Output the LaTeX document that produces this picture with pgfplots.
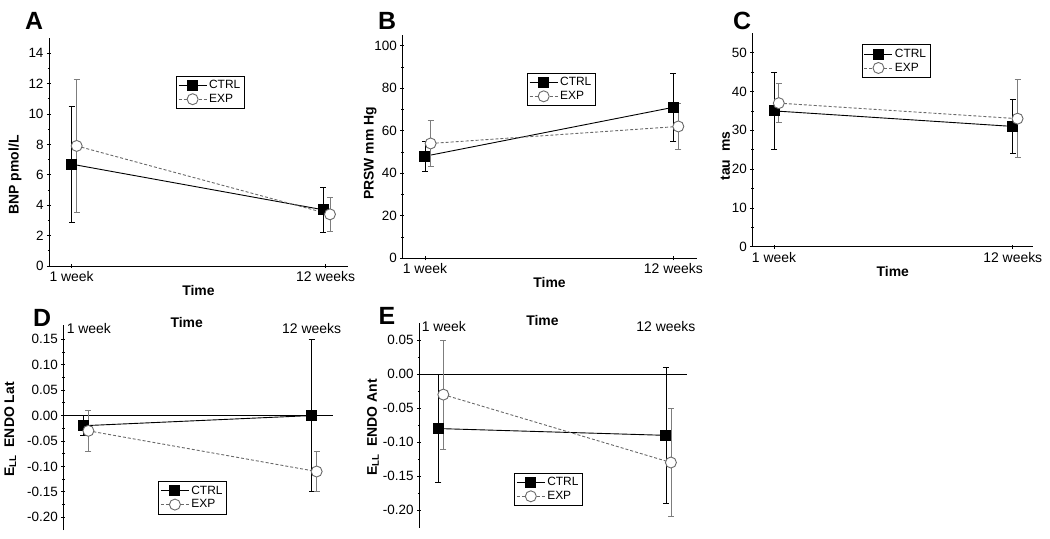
\documentclass[border=0pt]{standalone}
\usepackage{fontspec}
\setmainfont{Liberation Sans}
\usepackage{pgfplots}
\pgfplotsset{compat=1.18}
\definecolor{expgray}{RGB}{105,105,105}
\definecolor{expbar}{RGB}{125,125,125}

\pgfplotsset{
  panel/.style={
    scale only axis, clip=false,
    tick align=outside,
    major tick length=4bp, minor tick length=2.5bp,
    every tick/.append style={black, line width=0.8bp},
    yticklabel style={font=\fontsize{13.5}{14}\selectfont},
    xticklabel style={font=\fontsize{14}{15}\selectfont},
    /pgf/number format/assume math mode=true,
    minor y tick num=1,
    xtick={0,1}, xticklabels={1 week,12 weeks},
    label style={font=\bfseries\fontsize{14}{15}\selectfont},
    legend style={draw=black, line width=0.8bp, font=\fontsize{12}{13}\selectfont,
      inner xsep=2bp, inner ysep=2.5bp, row sep=0bp, cells={anchor=west}, anchor=north west},
    legend image code/.code={\draw[mark repeat=2,mark phase=2]
      plot coordinates {(0bp,0bp)(14bp,0bp)(28bp,0bp)};},
  },
  top panel/.style={panel, axis lines=left,
    axis line style={-, line width=0.9bp},
    every outer x axis line/.append style={-}, every outer y axis line/.append style={-},
    xlabel={Time},
    xlabel style={at={(axis description cs:0.5,0)}, anchor=north, yshift=-16bp}},
  low panel/.style={panel, axis y line=left, axis x line=top,
    axis line style={-, line width=0.9bp},
    every outer x axis line/.append style={-}, every outer y axis line/.append style={-},
    x axis line style={draw=none}, xtick style={draw=none},
    xticklabels={\hspace*{11bp}1 week,12 weeks},
    xticklabel style={yshift=-14bp}, xlabel={Time},
    /pgf/number format/fixed, /pgf/number format/fixed zerofill,
    /pgf/number format/precision=2},
  ctrl/.style={black, line width=0.9bp, mark=square*, mark size=5bp,
    mark options={solid, fill=black},
    error bars/y dir=both, error bars/y explicit,
    error bars/error bar style={black, line width=0.8bp, solid},
    error bars/error mark options={rotate=90, mark size=3bp, black, line width=0.8bp, solid}},
  exp/.style={expgray, line width=0.9bp, dash pattern=on 3bp off 2bp, mark=*, mark size=5.5bp,
    mark options={solid, fill=white, draw=expgray},
    error bars/y dir=both, error bars/y explicit,
    error bars/error bar style={expbar, line width=0.8bp, solid},
    error bars/error mark options={rotate=90, mark size=3bp, expbar, line width=0.8bp, solid}},
}

\begin{document}
\begin{tikzpicture}
% A
\begin{axis}[top panel, at={(49bp,-38bp)}, anchor=north west, width=299bp, height=228bp,
  xmin=-0.089, xmax=1.088, ymin=0, ymax=15, ytick={0,2,...,14},
  ylabel={BNP pmol/L}, ylabel style={at={(axis description cs:0,0.40)}, anchor=center, yshift=34bp},
  legend style={at={(axis description cs:0.424,0.835)}}]
\addplot[ctrl] coordinates {(0,6.7) +- (0,3.8) (0.99,3.7) +- (0,1.5)};
\addlegendentry{CTRL}
\addplot[exp] coordinates {(0.02,7.9) +- (0,4.4) (1.017,3.4) +- (0,1.1)};
\addlegendentry{EXP}
\end{axis}
% B
\begin{axis}[top panel, at={(402.3bp,-35bp)}, anchor=north west, width=294.4bp, height=223.3bp,
  xmin=-0.091, xmax=1.094, ymin=0, ymax=105, ytick={0,20,...,100},
  ylabel={PRSW mm Hg}, ylabel style={at={(axis description cs:0,0.47)}, anchor=center, yshift=32bp},
  legend style={at={(axis description cs:0.423,0.831)}}]
\addplot[ctrl] coordinates {(0,48) +- (0,7) (1,71) +- (0,16)};
\addlegendentry{CTRL}
\addplot[exp] coordinates {(0.023,54) +- (0,11) (1.02,62) +- (0,11)};
\addlegendentry{EXP}
\end{axis}
% C
\begin{axis}[top panel, at={(752.3bp,-33.3bp)}, anchor=north west, width=281bp, height=213.4bp,
  xmin=-0.091, xmax=1.086, ymin=0, ymax=55, ytick={0,10,...,50},
  ylabel={tau\ \ ms}, ylabel style={at={(axis description cs:0,0.425)}, anchor=center, yshift=27bp},
  legend style={at={(axis description cs:0.389,0.948)}}]
\addplot[ctrl] coordinates {(0,35) +- (0,10) (1,31) +- (0,7)};
\addlegendentry{CTRL}
\addplot[exp] coordinates {(0.02,37) +- (0,5) (1.02,33) +- (0,10)};
\addlegendentry{EXP}
\end{axis}
% D
\begin{axis}[low panel, at={(63.3bp,-325bp)}, anchor=north west, width=270bp, height=205bp,
  xmin=-0.088, xmax=1.095, ymin=-0.225, ymax=0.178,
  ytick={-0.2,-0.15,-0.1,-0.05,0,0.05,0.1,0.15},
  xlabel style={at={(axis description cs:0.457,1)}, anchor=center, yshift=2bp,
    font=\bfseries\fontsize{14}{15}\selectfont},
  ylabel={E\textsubscript{LL}\ \ ENDO Lat}, ylabel style={at={(axis description cs:0,0.49)}, anchor=center, yshift=53bp},
  legend style={at={(axis description cs:0.351,0.239)}}]
\draw[line width=0.9bp] (axis cs:-0.088,0) -- (axis cs:1.095,0);
\addplot[ctrl] coordinates {(0,-0.02) +- (0,0.02) (1,0) +- (0,0.15)};
\addlegendentry{CTRL}
\addplot[exp] coordinates {(0.022,-0.03) +- (0,0.04) (1.022,-0.11) +- (0,0.04)};
\addlegendentry{EXP}
\end{axis}
% E
\begin{axis}[low panel, at={(419bp,-323.3bp)}, anchor=north west, width=268.3bp, height=204.4bp,
  xmin=-0.085, xmax=1.094, ymin=-0.226, ymax=0.075,
  ytick={-0.2,-0.15,-0.1,-0.05,0,0.05},
  xlabel style={at={(axis description cs:0.46,1)}, anchor=center, yshift=3bp,
    font=\bfseries\fontsize{14}{15}\selectfont},
  ylabel={E\textsubscript{LL}\ \ ENDO Ant}, ylabel style={at={(axis description cs:0,0.49)}, anchor=center, yshift=46bp},
  legend style={at={(axis description cs:0.354,0.269)}}]
\draw[line width=0.9bp] (axis cs:-0.085,0) -- (axis cs:1.094,0);
\addplot[ctrl] coordinates {(0,-0.08) +- (0,0.08) (1,-0.09) +- (0,0.10)};
\addlegendentry{CTRL}
\addplot[exp] coordinates {(0.022,-0.03) +- (0,0.08) (1.022,-0.13) +- (0,0.08)};
\addlegendentry{EXP}
\end{axis}
% panel letters
\begin{scope}[every node/.style={font=\bfseries\fontsize{25}{26}\selectfont}]
\node at (34bp,-21bp) {A};
\node at (387bp,-21bp) {B};
\node at (742bp,-21bp) {C};
\node at (42bp,-318bp) {D};
\node at (387bp,-316bp) {E};
\end{scope}
\pgfresetboundingbox
\path[use as bounding box] (0bp,0bp) rectangle (1050bp,-539bp);
\end{tikzpicture}
\end{document}
